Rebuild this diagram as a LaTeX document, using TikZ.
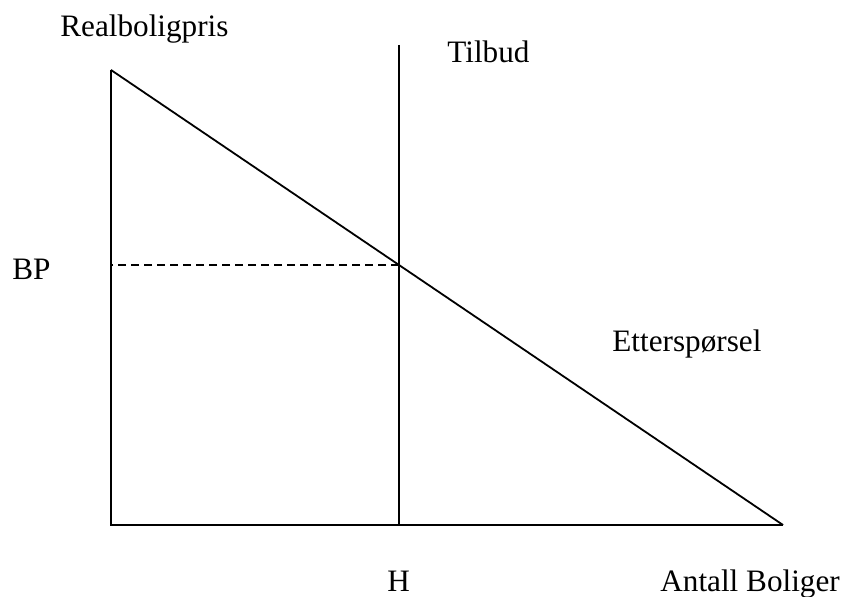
\documentclass[tikz,border=0pt]{standalone}
\usepackage{fontspec}
\setmainfont{Liberation Serif}
\usetikzlibrary{calc, intersections}

\begin{document}
\begin{tikzpicture}[x=0.5pt,y=0.5pt,
    label/.style={anchor=base west,inner sep=0pt,font=\fontsize{15.6}{18}\selectfont},
    curve/.style={line width=0.9pt,black}]
    \useasboundingbox (0,0) rectangle (845,597);
    \coordinate (O) at (111,72);
    \coordinate (Ytop) at (111,527);
    \coordinate (Xend) at (783,72);
    \coordinate (Stop) at (399,552);
    \coordinate (Sbot) at (399,72);

    % akser
    \draw[curve] (Ytop) -- (O) -- (Xend);
    % tilbud og etterspoersel
    \draw[curve,name path=demand] (Ytop) -- (Xend);
    \draw[curve,name path=supply] (Stop) -- (Sbot);
    \path[name intersections={of=demand and supply,by=E}];
    \draw[line width=0.9pt,dash pattern=on 4pt off 2.5pt] (E) -- (O |- E);

    \node[label] (pris) at (60,560) {Realboligpris};
    \node[label] (tilbud) at (447,534) {Tilbud};
    \node[label] (bp) at (12,317) {BP};
    \node[label] (ettersp) at (612,245) {Etterspørsel};
    \node[label] (h) at (387,5) {H};
    \node[label] (antall) at (660,5) {Antall Boliger};
\end{tikzpicture}
\end{document}
